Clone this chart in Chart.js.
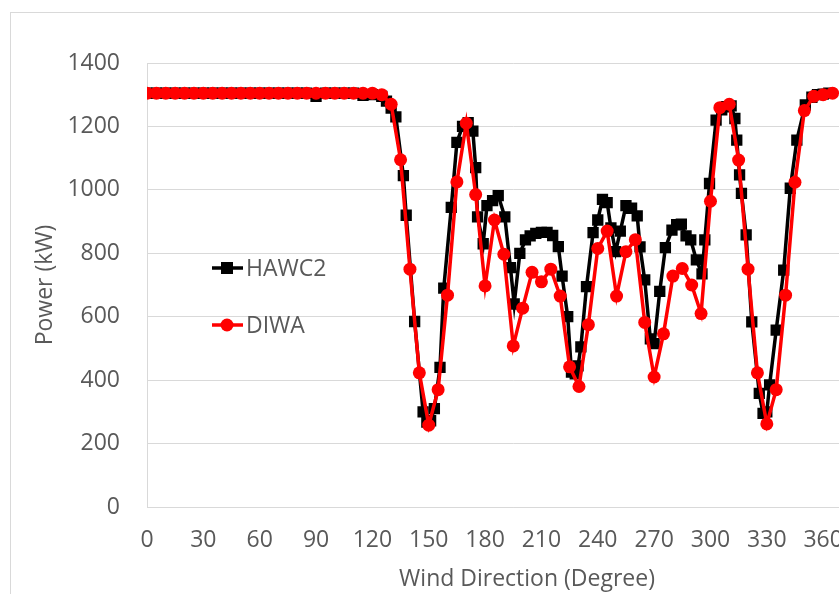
<!DOCTYPE html>
<html>
<head>
<meta charset="utf-8">
<script src="https://cdn.jsdelivr.net/npm/chart.js@4/dist/chart.umd.min.js"></script>
<style>
    html, body { margin: 0; padding: 0; background: #fff; overflow: hidden; }
    #frame { position: absolute; left: 10px; top: 12px; width: 1000px; height: 700px; border: 1px solid #d9d9d9; }
    #wrap { position: absolute; left: 0; top: 0; width: 950px; height: 594px; }
</style>
</head>
<body>
<div id="frame"></div>
<div id="wrap"><canvas id="resultsChart" width="950" height="594"></canvas></div>
<script>
// DIWA, every 5 degrees
const diwaDir = [
    0, 5, 10, 15, 20, 25, 30, 35, 40, 45, 50, 55, 60, 65, 70, 75, 80, 85, 90, 95,
    100, 105, 110, 115, 120, 125, 130, 135, 140, 145, 150, 155, 160, 165, 170, 175,
    180, 185, 190, 195, 200, 205, 210, 215, 220, 225, 230, 235, 240, 245, 250, 255,
    260, 265, 270, 275, 280, 285, 290, 295, 300, 305, 310, 315, 320, 325, 330, 335,
    340, 345, 350, 355, 360, 365
];
const diwaPower = [
    1305, 1305, 1305, 1305, 1305, 1305, 1305, 1305, 1305, 1305, 1305, 1305, 1305, 1305, 1305, 1305, 1305, 1305, 1305, 1305,
    1305, 1305, 1305, 1305, 1305, 1300, 1270, 1095, 750, 423, 258, 370, 668, 1025, 1210, 985,
    697, 905, 797, 508, 627, 740, 710, 750, 665, 442, 380, 575, 815, 870, 665, 805,
    843, 582, 410, 546, 728, 752, 700, 610, 964, 1259, 1270, 1094, 750, 423, 262, 370,
    668, 1024, 1250, 1295, 1300, 1305
];

// HAWC2
const hawcDir = [
    0, 5, 10, 15, 20, 25, 30, 35, 40, 45, 50, 55, 60, 65, 70, 75, 80, 85, 90, 95,
    100, 105, 110, 115, 120, 125, 127.5, 130, 132.5, 136.5, 138, 142.5, 147, 149, 151, 153,
    156, 158, 162, 165, 168, 171, 173.5, 175, 176, 179, 181, 184, 187, 190.5, 193.5, 195.5,
    198.5, 201.5, 204, 207, 210, 213, 216, 219, 221, 224, 226, 228, 229.5, 231, 234, 237.5,
    240, 242.5, 245, 247, 249.5, 252, 255, 258, 261, 262.5, 265, 268, 270, 273, 276, 279.5,
    282, 284.5, 287, 289.5, 292.5, 295.5, 297, 299.5, 303, 306, 308.5, 311, 313, 314, 315.5, 316.5,
    319, 322, 326, 328, 330, 331.5, 335, 339, 342.5, 346, 350.5, 354, 357, 360, 363
];
const hawcPower = [
    1305, 1305, 1305, 1305, 1305, 1305, 1305, 1305, 1305, 1305, 1305, 1305, 1305, 1305, 1305, 1305, 1305, 1305, 1295, 1305,
    1305, 1305, 1305, 1298, 1300, 1295, 1280, 1258, 1230, 1045, 920, 585, 300, 268, 272, 310,
    440, 690, 945, 1150, 1200, 1212, 1185, 1070, 915, 830, 950, 966, 982, 915, 755, 640,
    800, 842, 855, 863, 866, 866, 856, 821, 728, 600, 425, 420, 445, 505, 695, 865,
    905, 970, 960, 880, 805, 870, 950, 942, 918, 820, 716, 530, 515, 680, 818, 873,
    890, 892, 855, 842, 779, 735, 842, 1020, 1220, 1252, 1262, 1265, 1225, 1157, 1047, 989,
    858, 584, 358, 295, 300, 385, 558, 747, 1005, 1157, 1268, 1292, 1300, 1302, 1305
];

const xTicks = [0, 30, 60, 90, 120, 150, 180, 210, 240, 270, 300, 330, 360, 390];
const yTicks = [0, 200, 400, 600, 800, 1000, 1200, 1400];

const FONT = '"Open Sans", sans-serif';
const GREY = '#595959';

const toPoints = (xs, ys) => xs.map((x, i) => ({ x: x, y: ys[i] }));

// legend inside the plot + axis titles
const extras = {
    id: 'extras',
    afterDraw(chart) {
        const ctx = chart.ctx;
        ctx.save();
        ctx.font = '23px ' + FONT;
        ctx.fillStyle = GREY;
        ctx.textBaseline = 'middle';

        // legend
        const items = [
            { label: 'HAWC2', color: '#000000', style: 'rect', y: 268 },
            { label: 'DIWA', color: '#ff0000', style: 'circle', y: 325 }
        ];
        for (let item of items) {
            ctx.strokeStyle = item.color;
            ctx.lineWidth = 3.5;
            ctx.beginPath();
            ctx.moveTo(212, item.y);
            ctx.lineTo(243, item.y);
            ctx.stroke();
            ctx.fillStyle = item.color;
            if (item.style === 'rect') {
                ctx.fillRect(221, item.y - 6, 12, 12);
            } else {
                ctx.beginPath();
                ctx.arc(227, item.y, 6.5, 0, Math.PI * 2);
                ctx.fill();
            }
            ctx.fillStyle = GREY;
            ctx.textAlign = 'left';
            ctx.fillText(item.label, 246, item.y + 1);
        }

        // axis titles
        ctx.textAlign = 'center';
        ctx.fillText('Wind Direction (Degree)', 527, 579);
        ctx.translate(45, 285);
        ctx.rotate(-Math.PI / 2);
        ctx.fillText('Power (kW)', 0, 0);
        ctx.restore();
    }
};

const ctx = document.getElementById('resultsChart').getContext('2d');
// eslint-disable-next-line no-undef
new Chart(ctx, {
    type: 'scatter',
    data: {
        datasets: [{
            label: 'HAWC2',
            data: toPoints(hawcDir, hawcPower),
            showLine: true,
            borderColor: '#000000',
            backgroundColor: '#000000',
            borderWidth: 3.5,
            pointStyle: 'rect',
            pointRadius: 8,
            pointBorderWidth: 0,
            tension: 0,
            order: 2
        },
        {
            label: 'DIWA',
            data: toPoints(diwaDir, diwaPower),
            showLine: true,
            borderColor: '#ff0000',
            backgroundColor: '#ff0000',
            borderWidth: 3.5,
            pointStyle: 'circle',
            pointRadius: 6.5,
            pointBorderWidth: 0,
            tension: 0,
            order: 1
        }]
    },
    options: {
        responsive: false,
        animation: false,
        layout: { padding: { left: 0, top: 63, right: 70.5, bottom: 0 } },
        plugins: {
            legend: { display: false },
            tooltip: { enabled: false }
        },
        scales: {
            x: {
                type: 'linear',
                min: 0,
                max: 390,
                afterBuildTicks: (s) => { s.ticks = xTicks.map(v => ({ value: v })); },
                afterFit: (s) => { s.height = 87; },
                grid: { display: false, drawTicks: false },
                border: { display: true, color: '#d9d9d9', width: 1 },
                ticks: { autoSkip: false, maxRotation: 0, padding: 20, color: GREY, font: { family: FONT, size: 23 }, callback: (v) => String(v) }
            },
            y: {
                min: 0,
                max: 1400,
                afterBuildTicks: (s) => { s.ticks = yTicks.map(v => ({ value: v })); },
                afterFit: (s) => { s.width = 147; },
                grid: { color: '#d9d9d9', lineWidth: 1, drawTicks: false },
                border: { display: true, color: '#d9d9d9', width: 1 },
                ticks: { padding: 27, color: GREY, font: { family: FONT, size: 23 }, callback: (v) => String(v) }
            }
        }
    },
    plugins: [extras]
});
</script>
</body>
</html>
